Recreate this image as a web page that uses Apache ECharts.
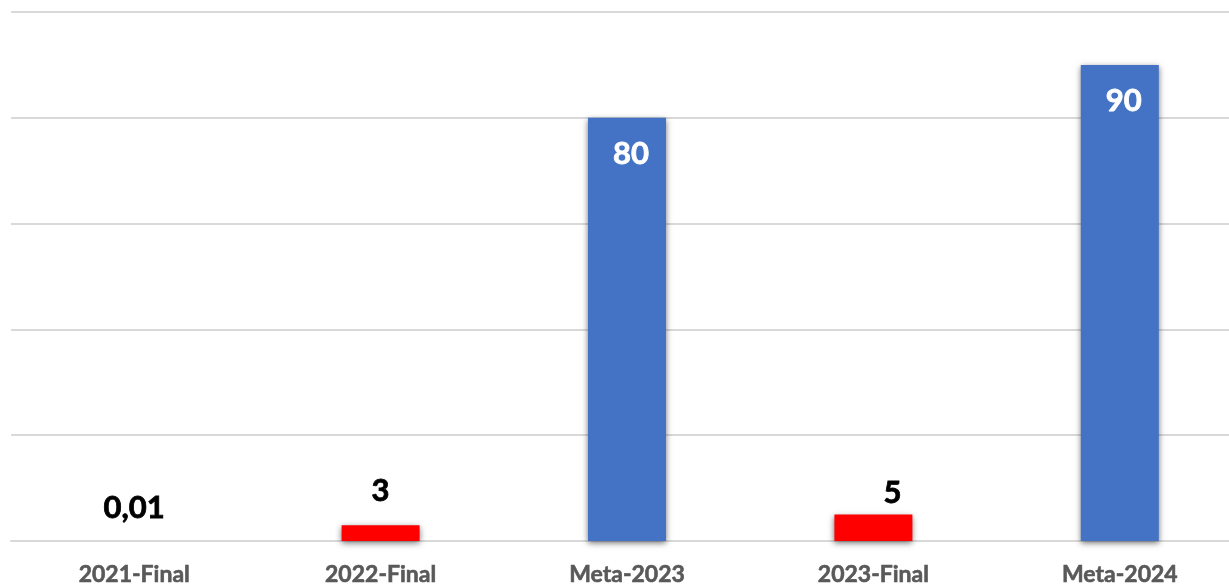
<!DOCTYPE html>
<html>
<head>
<meta charset="utf-8">
<script src="https://cdn.jsdelivr.net/npm/echarts@6/dist/echarts.min.js"></script>
<style>
html,body{margin:0;padding:0;background:#fff;}
#chart{width:1229px;height:587px;}
</style>
</head>
<body>
<div id="chart"></div>
<script>
var categories = ['2021-Final', '2022-Final', 'Meta-2023', '2023-Final', 'Meta-2024'];
var values = [0.01, 3, 80, 5, 90];
var valueLabels = ['0,01', '3', '80', '5', '90'];

var labelTweaks = [
  {distance: 17, offset: [0, 0]},
  {distance: 19, offset: [0, 0]},
  {distance: 21, offset: [4, 0]},
  {distance: 6, offset: [19, 0]},
  {distance: 21, offset: [4, 0]}
];

var FONT = 'Lato, "Open Sans", sans-serif';

var data = values.map(function (v, i) {
  var isMeta = categories[i].indexOf('Meta') === 0;
  var c = isMeta ? '#FFFFFF' : '#000000';
  return {
    value: v,
    itemStyle: {color: isMeta ? '#4472C4' : '#FF0000'},
    label: {
      show: true,
      position: isMeta ? 'insideTop' : 'top',
      distance: labelTweaks[i].distance,
      offset: labelTweaks[i].offset,
      color: c,
      textBorderColor: c,
      textBorderWidth: 0.8,
      fontFamily: FONT,
      fontWeight: 'bold',
      fontSize: 31,
      formatter: function () { return valueLabels[i]; }
    }
  };
});

var chart = echarts.init(document.getElementById('chart'));
chart.setOption({
  animation: false,
  grid: {left: 11, width: 1232, top: 12, bottom: 46, containLabel: false, outerBoundsMode: 'none'},
  xAxis: {
    type: 'category',
    data: categories,
    axisLine: {lineStyle: {color: '#D9D9D9', width: 2}},
    axisTick: {show: false},
    axisLabel: {
      color: '#595959',
      textBorderColor: '#595959',
      textBorderWidth: 0.6,
      fontFamily: FONT,
      fontWeight: 'bold',
      fontSize: 23,
      margin: 22
    }
  },
  yAxis: {
    type: 'value',
    min: 0,
    max: 100,
    interval: 20,
    axisLabel: {show: false},
    axisLine: {show: false},
    axisTick: {show: false},
    splitLine: {lineStyle: {color: '#D9D9D9', width: 2}}
  },
  series: [{
    type: 'bar',
    data: data,
    barWidth: 78,
    itemStyle: {
      shadowBlur: 6,
      shadowColor: 'rgba(0,0,0,0.55)',
      shadowOffsetY: 2
    }
  }]
});
</script>
</body>
</html>
